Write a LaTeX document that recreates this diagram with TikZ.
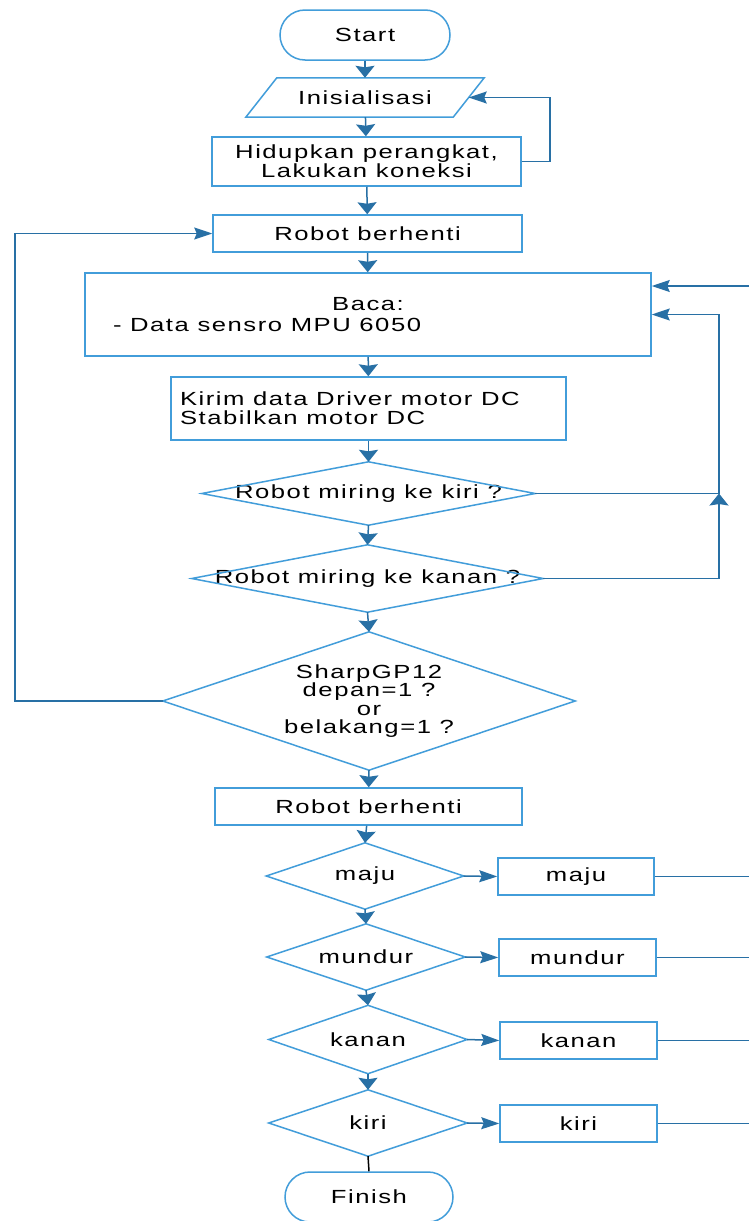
\documentclass[tikz,border=0pt]{standalone}
\usepackage{fontspec}
\setmainfont{Liberation Sans}[FakeStretch=1.35,LetterSpace=8]
\usetikzlibrary{arrows.meta,calc}
\definecolor{boxblue}{RGB}{66,157,218}
\definecolor{linkblue}{RGB}{40,112,165}

\begin{document}
\begin{tikzpicture}[x=1pt,y=-1pt,
  every node/.style={font=\fontsize{19}{19}\selectfont, text=black},
  box/.style 2 args={rectangle, draw=boxblue, line width=1.5pt, inner sep=0pt,
    align=center, minimum width=#1, minimum height=#2},
  term/.style 2 args={box={#1}{#2}, rounded corners=25pt},
  dec/.style 2 args={rectangle, inner sep=0pt, align=center,
    minimum width=#1, minimum height=#2},
  outline/.style={draw=boxblue, line width=1.5pt, line join=miter},
  link/.style={draw=linkblue, line width=1.5pt},
  % heads are wider across when the arrow runs down, longer when it runs sideways
  varr/.style={link, -{Stealth[length=12pt,width=19pt,inset=1.5pt]}},
  harr/.style={link, -{Stealth[length=18pt,width=12pt,inset=2.5pt]}}
]
\fill[white] (0,0) rectangle (749,1221);
\useasboundingbox (0,0) rectangle (749,1221);

% main column
\node[term={170}{50}] (start) at (365,35) {Start};
\node[dec={207}{39}] (init) at (365,97.5) {Inisialisasi};
\node[box={309}{49}] (hid) at (366.5,161.5) {Hidupkan perangkat,\\Lakukan koneksi};
\node[box={309}{37}] (rb1) at (367.5,233.5) {Robot berhenti};
\node[box={566}{83}, align=left] (baca) at (368,314.5)
  {\makebox[510pt][c]{Baca:}\\[2pt]\makebox[510pt][l]{- Data sensro MPU 6050}};
\node[box={395}{63}, align=left] (kirim) at (368.5,408.5)
  {\makebox[377pt][l]{Kirim data Driver motor DC}\\\makebox[377pt][l]{Stabilkan motor DC}};
\node[dec={333}{63}] (d1) at (368.5,493.5) {Robot miring ke kiri ?};
\node[dec={351}{67}] (d2) at (367.5,578.5) {Robot miring ke kanan ?};
\node[dec={412}{138}, font=\fontsize{19}{18.3}\selectfont] (d3) at (369,701)
  {SharpGP12\\depan=1 ?\\or\\belakang=1 ?};
\node[box={307}{37}] (rb2) at (368.5,806.5) {Robot berhenti};

% direction checks and their actions
\node[dec={197}{66}] (dmaju) at (365,876) {maju};
\node[box={156}{37}] (bmaju) at (576,876.5) {maju};
\node[dec={198}{66}] (dmundur) at (366,957) {mundur};
\node[box={157}{37}] (bmundur) at (577.5,957.5) {mundur};
\node[dec={198}{68}] (dkanan) at (368,1039.5) {kanan};
\node[box={157}{37}] (bkanan) at (578.5,1040.5) {kanan};
\node[dec={198}{66}] (dkiri) at (368,1123) {kiri};
\node[box={157}{37}] (bkiri) at (578.5,1123.5) {kiri};
\node[term={168}{50}] (finish) at (369,1197) {Finish};

% input/output shape
\draw[outline] ($(init.north west)+(15.5,0)$) -- ($(init.north east)+(15.5,0)$)
  -- ($(init.south east)+(-15.5,0)$) -- ($(init.south west)+(-15.5,0)$) -- cycle;

% decision diamonds
\foreach \n in {d1,d2,d3,dmaju,dmundur,dkanan,dkiri}
  \draw[outline] (\n.north) -- (\n.east) -- (\n.south) -- (\n.west) -- cycle;

% routing coordinates
\coordinate (rim) at (749,0);
\coordinate (hloop) at (550,0);
\coordinate (lft) at (15,0);
\coordinate (rloop) at (719,0);
\coordinate (tin) at (0,286);
\coordinate (jn) at (d1.east -| rloop);

% main flow
\draw[varr] (start) -- (init);
\draw[varr] (init) -- (hid);
\draw[varr] (hid) -- (rb1);
\draw[varr] (rb1) -- (baca);
\draw[varr] (baca) -- (kirim);
\draw[varr] (kirim) -- (d1.north);
\draw[varr] (d1.south) -- (d2.north);
\draw[varr] (d2.south) -- (d3.north);
\draw[varr] (d3.south) -- (rb2);
\draw[varr] (rb2) -- (dmaju.north);
\draw[varr] (dmaju.south) -- (dmundur.north);
\draw[varr] (dmundur.south) -- (dkanan.north);
\draw[varr] (dkanan.south) -- (dkiri.north);
\draw[line width=1.5pt, black] (dkiri.south) -- (finish.north);

% loops
\draw[harr] (hid.east) -- (hid.east -| hloop) |- (init.east);
\draw[harr] (d3.west) -- (d3.west -| lft) |- (rb1.west);
\draw[harr] (rim |- tin) -- (baca.east |- tin);
\draw[varr] (d2.east) -- (d2.east -| rloop) -- (jn);
\draw[harr] (d1.east) -- (jn) |- (baca.east);

% actions
\foreach \d/\b in {dmaju/bmaju,dmundur/bmundur,dkanan/bkanan,dkiri/bkiri}{
  \draw[harr] (\d.east) -- (\b.west);
  \draw[link] (\b.east) -- (\b.east -| rim);
}
\end{tikzpicture}
\end{document}
